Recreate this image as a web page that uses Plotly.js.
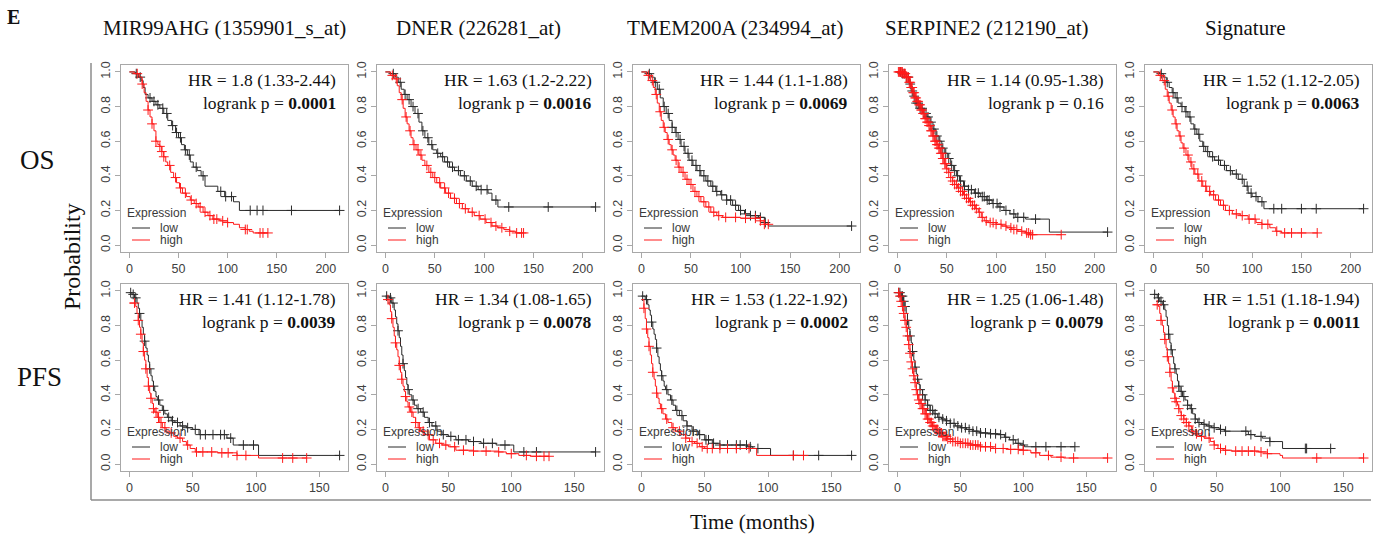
<!DOCTYPE html>
<html><head><meta charset="utf-8">
<script src="https://cdn.plot.ly/plotly-3.0.1.min.js"></script>
<style>body{margin:0;padding:0;background:#fff}#chart{width:1386px;height:538px}</style>
</head><body><div id="chart"></div>
<script>
// ---------- labels ----------
const geneTitles = ["MIR99AHG (1359901_s_at)","DNER (226281_at)","TMEM200A (234994_at)","SERPINE2 (212190_at)","Signature"];
const rowLabels = ["OS","PFS"];
const hrOS  = ["HR = 1.8 (1.33-2.44)","HR = 1.63 (1.2-2.22)","HR = 1.44 (1.1-1.88)","HR = 1.14 (0.95-1.38)","HR = 1.52 (1.12-2.05)"];
const pOS   = ["0.0001","0.0016","0.0069","0.16","0.0063"];
const hrPFS = ["HR = 1.41 (1.12-1.78)","HR = 1.34 (1.08-1.65)","HR = 1.53 (1.22-1.92)","HR = 1.25 (1.06-1.48)","HR = 1.51 (1.18-1.94)"];
const pPFS  = ["0.0039","0.0078","0.0002","0.0079","0.0011"];
const xTicksOS = [0,50,100,150,200];
const xTicksPFS = [0,50,100,150];
const yTicks = [0,0.2,0.4,0.6,0.8,1.0];

// ---------- OS data (time in months, survival probability, censor times) ----------
const os1_low_t = [0,6,9,12,14,16,19,23,27,31,35,39,43,47,50,53,56,59,62,65,69,73,77,90,97,106,112];
const os1_low_s = [1,.99,.97,.95,.91,.87,.85,.83,.81,.79,.76,.72,.69,.65,.62,.58,.55,.52,.48,.45,.43,.40,.34,.31,.28,.25,.20];
const os1_low_c = [7,11,21,25,29,34,38,44,48,52,57,61,68,75,93,98,104,123,130,136,165,214];
const os1_high_t = [0,5,10,13,15,17,19,21,23,25,27,29,31,33,35,37,39,42,45,48,51,54,58,62,66,70,75,80,85,92,100,106,112,118,122,126];
const os1_high_s = [1,.99,.97,.93,.88,.83,.78,.74,.70,.66,.60,.58,.57,.54,.51,.48,.46,.42,.39,.36,.33,.30,.28,.26,.24,.22,.19,.17,.15,.14,.13,.12,.10,.09,.08,.07];
const os1_high_c = [8,13,19,23,27,31,33,35,41,47,52,57,63,68,72,77,82,86,89,95,100,118,120,133,136,141];

const os2_low_t = [0,5,10,13,16,19,22,26,30,34,37,40,44,48,52,56,60,65,70,76,82,88,94,104,108,114];
const os2_low_s = [1,.99,.97,.94,.90,.87,.84,.80,.76,.71,.66,.62,.58,.55,.53,.51,.48,.45,.43,.40,.37,.34,.32,.30,.26,.22];
const os2_low_c = [8,15,20,24,28,33,38,43,47,53,58,63,68,74,80,86,92,97,103,112,125,165,213];
const os2_high_t = [0,5,9,12,14,16,18,20,22,24,26,28,31,34,37,40,44,48,52,56,61,66,72,78,84,90,96,102,108,114,120,126,132];
const os2_high_s = [1,.98,.96,.92,.88,.84,.79,.74,.70,.66,.62,.58,.55,.52,.49,.46,.42,.39,.36,.33,.30,.27,.24,.21,.19,.17,.15,.13,.11,.10,.09,.08,.07];
const os2_high_c = [7,11,17,21,25,29,33,36,42,46,50,55,60,64,70,75,81,88,95,101,107,112,118,126,133,138,140];

const os3_low_t = [0,6,10,13,16,19,22,25,28,31,34,37,40,44,48,52,56,60,65,70,75,80,86,92,98,104,110,118,124,128];
const os3_low_s = [1,.99,.97,.94,.90,.85,.80,.76,.72,.68,.65,.61,.57,.53,.49,.46,.43,.40,.37,.34,.31,.29,.26,.23,.20,.18,.17,.16,.13,.11];
const os3_low_c = [8,14,18,23,27,31,35,39,43,47,51,55,59,63,67,72,76,81,86,90,95,100,105,110,115,120,125,212];
const os3_high_t = [0,5,9,12,14,16,18,20,22,24,26,28,30,32,34,37,40,44,48,52,56,60,65,70,76,82,100,120,124];
const os3_high_s = [1,.98,.95,.91,.87,.82,.77,.72,.68,.65,.61,.58,.55,.52,.49,.45,.42,.38,.35,.31,.28,.25,.22,.19,.17,.16,.155,.14,.12];
const os3_high_c = [7,11,15,19,23,27,31,35,38,42,46,50,54,58,63,68,73,78,85,95,105,115,120,124,128];

const os4_low_t = [0,5,9,12,14,16,19,22,26,30,33,36,39,42,45,48,51,54,57,60,63,67,72,78,84,90,96,102,108,114,120,130,154];
const os4_low_s = [1,.99,.97,.93,.89,.86,.82,.79,.76,.74,.71,.67,.63,.60,.56,.53,.50,.46,.43,.40,.37,.34,.32,.30,.28,.26,.24,.22,.20,.18,.16,.15,.075];
const os4_low_c = [3,5,7,9,11,13,15,17,19,21,23,25,27,29,31,34,37,40,43,46,49,52,55,58,61,64,68,72,75,79,82,86,88,91,93,97,101,104,110,118,122,128,140,213];
const os4_high_t = [0,6,9,12,14,16,18,20,22,24,26,28,30,32,34,36,38,40,42,44,46,48,50,52,54,56,58,61,64,67,70,73,76,79,82,85,88,92,100,106,111,116,122,130,134];
const os4_high_s = [1,.99,.97,.94,.91,.88,.85,.83,.81,.78,.76,.73,.71,.69,.66,.63,.60,.58,.56,.53,.50,.47,.44,.42,.39,.37,.35,.33,.31,.29,.27,.25,.23,.21,.19,.16,.14,.13,.12,.11,.10,.09,.08,.07,.06];
const os4_high_c = [1,2,3,4,5,6,7,8,9,10,11,12,13,14,15,16,17,18,19,20,21,22,23,24,25,26,27,28,29,30,31,32,33,34,35,36,37,38,39,40,41,42,43,44,45,46,47,48,49,50,52,54,56,58,60,62,64,66,68,70,72,74,76,78,80,83,86,90,94,97,100,105,110,115,118,121,126,131,133,135,137,166];

const os5_low_t = [0,6,10,13,16,19,22,25,28,32,35,38,41,44,47,50,53,57,62,68,74,80,86,92,96,100,106,112];
const os5_low_s = [1,.99,.97,.94,.91,.88,.85,.82,.80,.77,.74,.70,.67,.64,.60,.57,.54,.51,.49,.46,.43,.41,.38,.34,.30,.28,.25,.21];
const os5_low_c = [8,14,20,24,29,33,37,42,46,51,55,60,66,72,78,84,90,95,99,104,110,122,130,150,165,213];
const os5_high_t = [0,5,9,12,14,16,18,20,22,24,26,28,30,33,36,39,42,46,50,54,58,63,68,73,80,88,96,104,110,118,124,130];
const os5_high_s = [1,.98,.95,.90,.86,.82,.78,.74,.70,.66,.63,.59,.56,.52,.48,.44,.41,.37,.34,.31,.29,.26,.23,.20,.18,.17,.15,.13,.12,.10,.08,.07];
const os5_high_c = [7,11,15,19,23,27,31,35,38,41,45,49,53,57,61,66,71,77,84,90,97,103,110,116,125,133,140,150,166];

// ---------- PFS data ----------
const pfs1_low_t = [0,2,4,6,7,8,9,10,11,12,13,14,15,16,17,18,19,20,21,22,24,26,28,30,33,36,40,45,50,55,77,82,102];
const pfs1_low_s = [.99,.98,.96,.93,.90,.87,.83,.79,.75,.71,.67,.63,.59,.55,.51,.48,.45,.42,.39,.37,.34,.31,.29,.27,.25,.24,.22,.21,.20,.17,.15,.11,.05];
const pfs1_low_c = [1,3,5,8,12,16,19,23,27,31,34,38,42,46,52,56,60,66,72,75,80,90,98,166];
const pfs1_high_t = [0,5,6,7,8,9,10,11,12,13,14,15,16,17,18,19,20,22,24,26,29,32,35,38,42,45,48,52,70,85,102];
const pfs1_high_s = [.93,.91,.87,.83,.79,.75,.70,.65,.60,.55,.50,.45,.41,.38,.35,.32,.30,.27,.24,.21,.19,.18,.16,.15,.13,.11,.09,.07,.065,.05,.035];
const pfs1_high_c = [4,7,9,11,13,15,17,19,21,23,25,28,33,40,46,53,58,65,73,78,85,92,121,129,140];

const pfs2_low_t = [0,3,5,7,8,9,10,11,12,13,14,15,16,17,18,19,21,23,25,28,31,34,37,41,45,50,56,66,76,88,102];
const pfs2_low_s = [.97,.96,.93,.89,.85,.81,.77,.73,.68,.63,.58,.54,.50,.46,.43,.40,.37,.34,.32,.30,.27,.24,.22,.19,.17,.16,.14,.13,.12,.11,.07];
const pfs2_low_c = [1,4,6,10,14,18,22,26,30,35,40,46,52,58,64,70,78,85,95,110,120,167];
const pfs2_high_t = [0,3,4,5,6,7,8,9,10,11,12,13,14,15,16,17,18,20,22,24,26,28,31,35,40,45,50,56,70,90,96,106,115];
const pfs2_high_s = [.95,.92,.88,.84,.79,.74,.70,.66,.62,.57,.53,.49,.45,.42,.39,.36,.33,.30,.27,.24,.21,.19,.17,.14,.12,.11,.10,.08,.075,.07,.06,.05,.045];
const pfs2_high_c = [2,5,8,11,13,16,19,21,24,27,30,34,38,43,48,55,62,70,80,90,100,112,120,126,130];

const pfs3_low_t = [0,3,5,6,7,8,9,10,11,12,13,14,15,16,17,18,19,21,23,25,27,30,33,36,40,45,50,56,62,84,88,102];
const pfs3_low_s = [.97,.95,.92,.89,.86,.82,.78,.75,.72,.67,.62,.58,.54,.51,.48,.45,.43,.40,.37,.34,.31,.28,.25,.22,.19,.17,.14,.12,.11,.10,.09,.05];
const pfs3_low_c = [1,4,8,12,16,20,24,28,32,36,41,46,51,53,57,62,68,75,78,83,86,92,120,140,166];
const pfs3_high_t = [0,2,3,4,5,6,7,8,9,10,11,12,13,14,15,17,19,21,24,27,31,35,38,42,46,50,91];
const pfs3_high_s = [.95,.90,.84,.78,.73,.68,.63,.58,.53,.49,.45,.41,.38,.35,.32,.29,.26,.24,.21,.19,.17,.15,.13,.12,.10,.09,.05];
const pfs3_high_c = [2,4,6,9,12,16,20,25,30,35,40,44,48,52,56,62,68,75,85,120,128];

const pfs4_low_t = [0,3,5,6,7,8,9,10,11,12,13,14,15,16,17,18,20,22,24,26,29,32,35,38,42,46,50,55,60,65,72,80,85,89,94,98,101];
const pfs4_low_s = [.99,.97,.94,.91,.87,.83,.78,.74,.70,.65,.60,.56,.52,.49,.46,.43,.40,.37,.34,.31,.29,.27,.26,.25,.235,.22,.21,.20,.19,.18,.175,.17,.155,.14,.12,.11,.10];
const pfs4_low_c = [1,2,3,4,5,6,8,10,12,14,16,18,20,22,24,26,28,30,33,36,39,42,45,48,51,54,57,60,63,66,70,74,78,82,86,92,96,100,110,118,130,141];
const pfs4_high_t = [0,2,3,4,5,6,7,8,9,10,11,12,13,14,15,16,17,18,20,22,24,26,28,30,33,36,40,44,50,58,66,76,88,97,106,113,122,132];
const pfs4_high_s = [.99,.97,.94,.91,.87,.83,.79,.74,.69,.64,.59,.55,.51,.47,.43,.40,.37,.35,.32,.29,.26,.24,.22,.20,.18,.16,.145,.13,.12,.11,.10,.09,.085,.08,.065,.05,.04,.035];
const pfs4_high_c = [1,2,3,4,5,6,7,8,9,10,11,12,13,14,15,16,17,18,19,20,21,22,23,24,25,26,27,28,29,30,31,32,33,34,35,36,37,38,39,40,42,44,46,48,50,52,54,56,58,60,62,64,66,70,74,78,84,90,96,100,110,120,130,140,167];

const pfs5_low_t = [0,3,5,7,9,10,11,12,13,14,15,16,17,18,19,20,21,23,25,27,29,31,33,35,38,42,46,52,56,75,80,86,92,102];
const pfs5_low_s = [.98,.96,.94,.92,.89,.85,.80,.75,.70,.66,.62,.58,.55,.52,.48,.45,.42,.39,.37,.34,.32,.29,.26,.24,.23,.22,.21,.20,.19,.17,.16,.15,.13,.09];
const pfs5_low_c = [1,4,6,8,12,14,17,20,22,24,27,30,33,36,40,44,48,53,57,73,77,85,92,120,121,140];
const pfs5_high_t = [0,4,5,6,7,8,9,10,11,12,13,14,15,16,17,18,19,20,21,22,24,26,28,30,32,35,40,45,48,51,55,62,83,90,100,102];
const pfs5_high_s = [.92,.91,.87,.83,.80,.76,.72,.67,.62,.58,.53,.48,.44,.41,.38,.36,.34,.32,.30,.28,.26,.24,.22,.19,.175,.16,.15,.13,.11,.09,.08,.075,.07,.06,.05,.035];
const pfs5_high_c = [3,6,9,11,13,15,17,18,20,22,24,26,28,31,34,38,44,48,53,57,65,70,75,80,85,90,129,166];

// ---------- assemble ----------
const panels = [
  {row:0,col:0,low:[os1_low_t,os1_low_s,os1_low_c],high:[os1_high_t,os1_high_s,os1_high_c],hr:hrOS[0],p:pOS[0],ticks:xTicksOS},
  {row:0,col:1,low:[os2_low_t,os2_low_s,os2_low_c],high:[os2_high_t,os2_high_s,os2_high_c],hr:hrOS[1],p:pOS[1],ticks:xTicksOS},
  {row:0,col:2,low:[os3_low_t,os3_low_s,os3_low_c],high:[os3_high_t,os3_high_s,os3_high_c],hr:hrOS[2],p:pOS[2],ticks:xTicksOS},
  {row:0,col:3,low:[os4_low_t,os4_low_s,os4_low_c],high:[os4_high_t,os4_high_s,os4_high_c],hr:hrOS[3],p:pOS[3],ticks:xTicksOS},
  {row:0,col:4,low:[os5_low_t,os5_low_s,os5_low_c],high:[os5_high_t,os5_high_s,os5_high_c],hr:hrOS[4],p:pOS[4],ticks:xTicksOS},
  {row:1,col:0,low:[pfs1_low_t,pfs1_low_s,pfs1_low_c],high:[pfs1_high_t,pfs1_high_s,pfs1_high_c],hr:hrPFS[0],p:pPFS[0],ticks:xTicksPFS},
  {row:1,col:1,low:[pfs2_low_t,pfs2_low_s,pfs2_low_c],high:[pfs2_high_t,pfs2_high_s,pfs2_high_c],hr:hrPFS[1],p:pPFS[1],ticks:xTicksPFS},
  {row:1,col:2,low:[pfs3_low_t,pfs3_low_s,pfs3_low_c],high:[pfs3_high_t,pfs3_high_s,pfs3_high_c],hr:hrPFS[2],p:pPFS[2],ticks:xTicksPFS},
  {row:1,col:3,low:[pfs4_low_t,pfs4_low_s,pfs4_low_c],high:[pfs4_high_t,pfs4_high_s,pfs4_high_c],hr:hrPFS[3],p:pPFS[3],ticks:xTicksPFS},
  {row:1,col:4,low:[pfs5_low_t,pfs5_low_s,pfs5_low_c],high:[pfs5_high_t,pfs5_high_s,pfs5_high_c],hr:hrPFS[4],p:pPFS[4],ticks:xTicksPFS}
];

const W=1386,H=538;
const LEFT=[121,377,633,889,1145], PW=227, TOP=[65,284], PH=187;
const px = x => x/W, py = y => 1 - y/H;
const LOWC='#2b2b2b', HIGHC='#ff1a1a', AX='#a8a8a8';
const SANS='"Liberation Sans", Arial, Helvetica, sans-serif';
const SERIF='"Liberation Serif", "Times New Roman", serif';

function stepAt(t,s,c){let v=s[0];for(let i=0;i<t.length;i++){if(t[i]<=c)v=s[i];else break;}return v;}

const traces=[], layout={
  width:W,height:H,margin:{l:0,r:0,t:0,b:0},paper_bgcolor:'#fff',plot_bgcolor:'#fff',
  showlegend:false,annotations:[],shapes:[]
};

panels.forEach((p,k)=>{
  const sfx = k===0?'':String(k+1);
  const xa='x'+sfx, ya='y'+sfx;
  const maxT = Math.max(...p.low[2],...p.high[2],...p.low[0],...p.high[0]);
  const l=LEFT[p.col], t=TOP[p.row];
  [[p.low,LOWC],[p.high,HIGHC]].forEach(([g,col])=>{
    const [tt,ss,cc]=g;
    const end=Math.max(...cc,...tt);
    traces.push({type:'scatter',mode:'lines',x:[...tt,end],y:[...ss,ss[ss.length-1]],xaxis:xa,yaxis:ya,
      line:{shape:'hv',color:col,width:1},hoverinfo:'skip'});
    traces.push({type:'scatter',mode:'markers',x:cc,y:cc.map(c=>stepAt(tt,ss,c)),xaxis:xa,yaxis:ya,
      marker:{symbol:'cross-thin',size:7,color:col,line:{color:col,width:1}},hoverinfo:'skip'});
  });
  const common={showgrid:false,zeroline:false,showline:true,mirror:true,linecolor:AX,linewidth:1,
    ticks:'outside',ticklen:5,tickcolor:AX,tickwidth:1,tickfont:{family:SANS,size:12.5,color:'#404040'}};
  layout['xaxis'+sfx]=Object.assign({},common,{anchor:ya,domain:[px(l),px(l+PW)],
    range:[-0.04*maxT,1.04*maxT],tickmode:'array',tickvals:p.ticks,ticktext:p.ticks.map(String)});
  layout['yaxis'+sfx]=Object.assign({},common,{anchor:xa,domain:[py(t+PH),py(t)],
    range:[-0.04,1.04],tickmode:'array',tickvals:yTicks,ticktext:yTicks.map(v=>v.toFixed(1)),tickangle:-90});
  // HR text
  const r=l+PW-10;
  const bold = parseFloat(p.p)<0.05;
  layout.annotations.push({xref:'paper',yref:'paper',x:px(r),y:py(t+15),xanchor:'right',yanchor:'middle',
    text:p.hr,showarrow:false,font:{family:SERIF,size:17.5,color:'#111'}});
  layout.annotations.push({xref:'paper',yref:'paper',x:px(r),y:py(t+38),xanchor:'right',yanchor:'middle',
    text:'logrank p = '+(bold?'<b>'+p.p+'</b>':p.p),showarrow:false,font:{family:SERIF,size:17.5,color:'#111'}});
  // legend
  const b=t+PH;
  layout.annotations.push({xref:'paper',yref:'paper',x:px(l+4),y:py(b-39),xanchor:'left',yanchor:'middle',
    text:'Expression',showarrow:false,font:{family:SANS,size:12,color:'#3a3a3a'}});
  [['low',LOWC,24],['high',HIGHC,12]].forEach(([lab,col,off])=>{
    layout.shapes.push({type:'line',xref:'paper',yref:'paper',x0:px(l+11),x1:px(l+29),y0:py(b-off),y1:py(b-off),
      line:{color:col,width:1}});
    layout.annotations.push({xref:'paper',yref:'paper',x:px(l+37),y:py(b-off),xanchor:'left',yanchor:'middle',
      text:lab,showarrow:false,font:{family:SANS,size:12,color:'#3a3a3a'}});
  });
});

// column titles
const titleX=[224,478,735,987,1245];
geneTitles.forEach((g,i)=>layout.annotations.push({xref:'paper',yref:'paper',x:px(titleX[i]),y:py(28),
  xanchor:'center',yanchor:'middle',text:g,showarrow:false,font:{family:SERIF,size:21,color:'#111'}}));
// row labels
layout.annotations.push({xref:'paper',yref:'paper',x:px(37),y:py(160),xanchor:'center',yanchor:'middle',
  text:rowLabels[0],showarrow:false,font:{family:SERIF,size:27,color:'#111'}});
layout.annotations.push({xref:'paper',yref:'paper',x:px(39),y:py(377),xanchor:'center',yanchor:'middle',
  text:rowLabels[1],showarrow:false,font:{family:SERIF,size:27,color:'#111'}});
layout.annotations.push({xref:'paper',yref:'paper',x:px(72),y:py(257),xanchor:'center',yanchor:'middle',
  text:'Probability',textangle:-90,showarrow:false,font:{family:SERIF,size:24,color:'#111'}});
layout.annotations.push({xref:'paper',yref:'paper',x:px(752),y:py(522),xanchor:'center',yanchor:'middle',
  text:'Time (months)',showarrow:false,font:{family:SERIF,size:21,color:'#111'}});
layout.annotations.push({xref:'paper',yref:'paper',x:px(13),y:py(17),xanchor:'center',yanchor:'middle',
  text:'<b>E</b>',showarrow:false,font:{family:SERIF,size:20,color:'#111'}});
// outer frame (L shape)
layout.shapes.push({type:'line',xref:'paper',yref:'paper',x0:px(91),x1:px(91),y0:py(63),y1:py(500),line:{color:'#8c8c8c',width:1.5}});
layout.shapes.push({type:'line',xref:'paper',yref:'paper',x0:px(91),x1:px(1371),y0:py(500),y1:py(500),line:{color:'#8c8c8c',width:1.5}});

Plotly.newPlot('chart',traces,layout,{staticPlot:true,displayModeBar:false});
</script></body></html>
